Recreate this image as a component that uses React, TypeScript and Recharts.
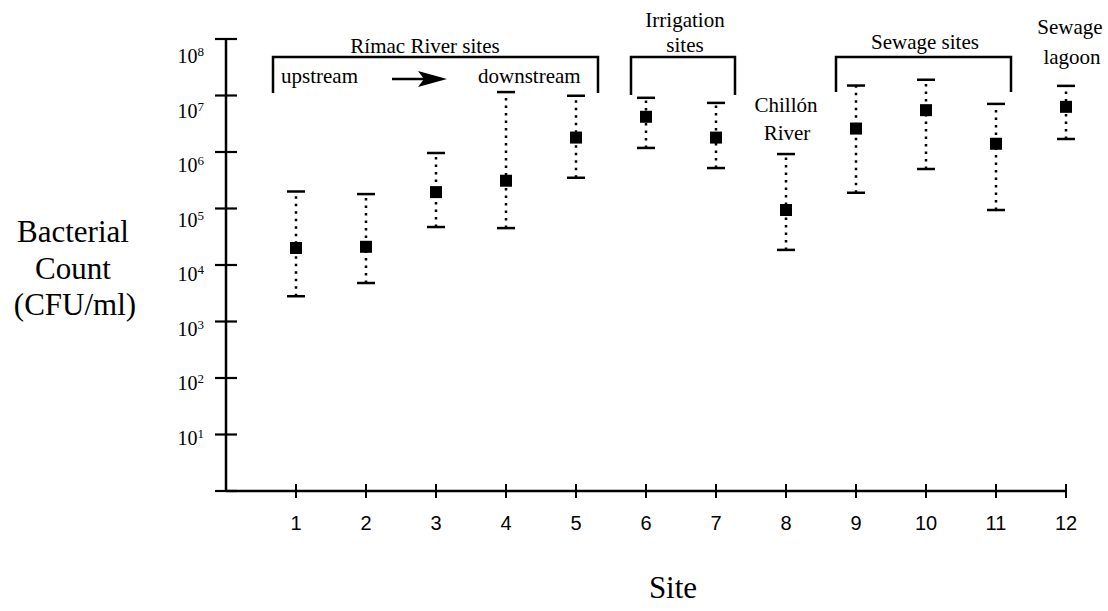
import React from 'react';
import { ComposedChart, Scatter, XAxis, YAxis, ErrorBar } from 'recharts';

const sites = [1, 2, 3, 4, 5, 6, 7, 8, 9, 10, 11, 12];
const means = [2.0e4, 2.1e4, 1.95e5, 3.1e5, 1.8e6, 4.2e6, 1.8e6, 9.4e4, 2.6e6, 5.5e6, 1.4e6, 6.3e6];
const highs = [2.0e5, 1.8e5, 9.6e5, 1.15e7, 9.9e6, 9.1e6, 7.4e6, 9.2e5, 1.5e7, 1.9e7, 7.1e6, 1.48e7];
const lows = [2.8e3, 4.8e3, 4.7e4, 4.5e4, 3.5e5, 1.18e6, 5.2e5, 1.85e4, 1.9e5, 5.0e5, 9.4e4, 1.7e6];
const yTicks = [1, 10, 100, 1e3, 1e4, 1e5, 1e6, 1e7, 1e8];

const meanData = sites.map((s, i) => ({ x: s, y: means[i], err: [means[i] - lows[i], highs[i] - means[i]] }));
const highData = sites.map((s, i) => ({ x: s, y: highs[i] }));
const lowData = sites.map((s, i) => ({ x: s, y: lows[i] }));

const serif = '"Liberation Serif", "Times New Roman", serif';
const sans = '"Liberation Sans", Arial, sans-serif';

const YTick = (props: any) => {
  const { x, y, payload } = props;
  const exp = Math.round(Math.log10(payload.value));
  return (
    <g>
      <line x1={x - 11} x2={x + 11} y1={y} y2={y} stroke="#000" strokeWidth={2.2} />
      {exp > 0 && (
        <text x={x - 22} y={y + 10 + 2 * (exp - 1)} textAnchor="end" fontFamily={serif} fontSize={20} fill="#000">
          10<tspan dy={-7} fontSize={13}>{exp}</tspan>
        </text>
      )}
    </g>
  );
};

const XTick = (props: any) => {
  const { x, y, payload } = props;
  return (
    <g>
      <line x1={x} x2={x} y1={y - 7} y2={y + 7} stroke="#000" strokeWidth={2} />
      <text x={x} y={y + 39} textAnchor="middle" fontFamily={sans} fontSize={20} fill="#000">
        {payload.value}
      </text>
    </g>
  );
};

const Square = (props: any) => {
  const { cx, cy } = props;
  return <rect x={cx - 6} y={cy - 6} width={12} height={12} fill="#000" />;
};

const Cap = (props: any) => {
  const { cx, cy } = props;
  return <line x1={cx - 9} x2={cx + 9} y1={cy} y2={cy} stroke="#000" strokeWidth={2.5} />;
};

const ann = { fontFamily: serif, fontSize: 21, fill: '#000' } as const;

export default function App() {
  return (
    <div style={{ position: 'absolute', left: 0, top: 0, width: 1108, height: 611, background: '#fff' }}>
      <ComposedChart width={1108} height={611} margin={{ top: 39, right: 42, bottom: 90, left: 166 }}>
        <XAxis
          type="number"
          dataKey="x"
          domain={[0, 12]}
          ticks={sites}
          interval={0}
          tick={XTick}
          tickSize={0}
          tickMargin={0}
          tickLine={false}
          height={30}
          axisLine={{ stroke: '#000', strokeWidth: 2.5 }}
        />
        <YAxis
          type="number"
          dataKey="y"
          scale="log"
          domain={[1, 1e8]}
          ticks={yTicks}
          interval={0}
          tick={YTick}
          tickSize={0}
          tickMargin={0}
          tickLine={false}
          width={60}
          axisLine={{ stroke: '#000', strokeWidth: 2.5 }}
        />
        <Scatter data={meanData} shape={Square} isAnimationActive={false}>
          <ErrorBar
            dataKey="err"
            direction="y"
            width={0}
            stroke="#000"
            strokeWidth={2.5}
            strokeDasharray="2.5 5"
            isAnimationActive={false}
          />
        </Scatter>
        <Scatter data={highData} shape={Cap} isAnimationActive={false} />
        <Scatter data={lowData} shape={Cap} isAnimationActive={false} />
      </ComposedChart>
      <svg width={1108} height={611} style={{ position: 'absolute', left: 0, top: 0, pointerEvents: 'none' }}>
        <polyline points="273,93 273,57 598,57 598,93" fill="none" stroke="#000" strokeWidth={2.5} />
        <polyline points="631,95 631,57 735,57 735,95" fill="none" stroke="#000" strokeWidth={2.5} />
        <polyline points="836,92 836,57 1011,57 1011,92" fill="none" stroke="#000" strokeWidth={2.5} />
        <line x1={392} x2={424} y1={79} y2={79} stroke="#000" strokeWidth={2.5} />
        <polygon points="418,71 447,79 418,87 424,79" fill="#000" />
        <text x={425} y={53} textAnchor="middle" {...ann}>Rímac River sites</text>
        <text x={281} y={83} {...ann}>upstream</text>
        <text x={478} y={83} {...ann}>downstream</text>
        <text x={685} y={27} textAnchor="middle" {...ann}>Irrigation</text>
        <text x={685} y={52} textAnchor="middle" {...ann}>sites</text>
        <text x={786} y={112} textAnchor="middle" {...ann}>Chillón</text>
        <text x={787} y={140} textAnchor="middle" {...ann}>River</text>
        <text x={925} y={49} textAnchor="middle" {...ann}>Sewage sites</text>
        <text x={1070} y={34} textAnchor="middle" {...ann}>Sewage</text>
        <text x={1072} y={64} textAnchor="middle" {...ann}>lagoon</text>
        <text x={73} y={242} textAnchor="middle" fontFamily={serif} fontSize={31} fill="#000">Bacterial</text>
        <text x={73} y={279} textAnchor="middle" fontFamily={serif} fontSize={31} fill="#000">Count</text>
        <text x={75} y={315} textAnchor="middle" fontFamily={serif} fontSize={31} fill="#000">(CFU/ml)</text>
        <text x={673} y={598} textAnchor="middle" fontFamily={serif} fontSize={31} fill="#000">Site</text>
      </svg>
    </div>
  );
}
